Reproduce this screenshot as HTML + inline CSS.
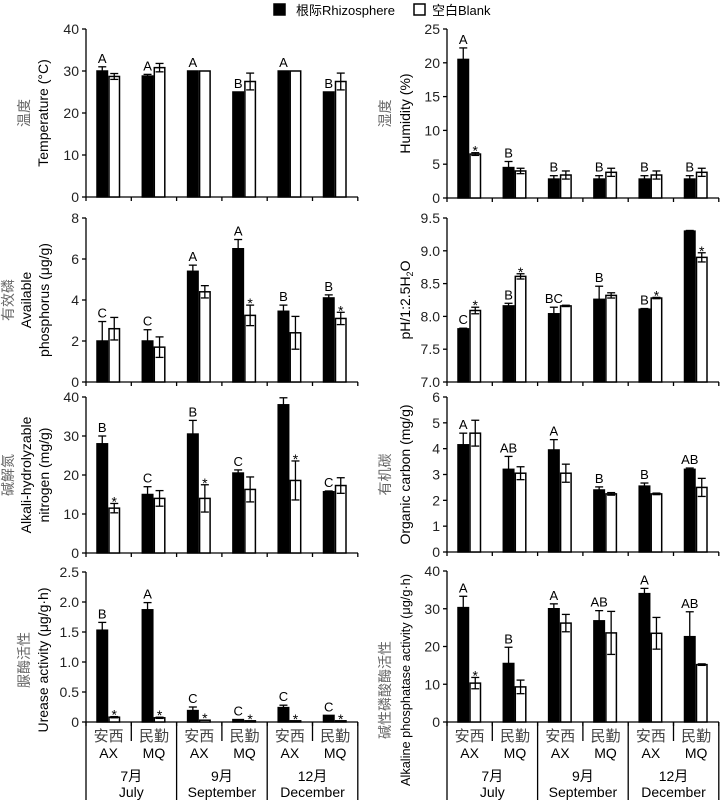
<!DOCTYPE html>
<html><head><meta charset="utf-8"><style>body{margin:0;background:#fff}svg{display:block}text{font-family:"Liberation Sans","Noto Sans CJK SC",sans-serif;}</style></head>
<body><svg id="s" width="720" height="800" xmlns="http://www.w3.org/2000/svg"></svg>
<script>
const S=document.getElementById('s');let h='';
function T(x,y,t,o){o=o||{};h+=`<text x="${x}" y="${y}" font-size="${o.fs||13}" fill="${o.c||'#000'}" text-anchor="${o.a||'middle'}"${o.r?` transform="rotate(-90 ${x} ${y})"`:''}${o.f?` font-family="${o.f}"`:''}${o.tl?` textLength="${o.tl}" lengthAdjust="spacingAndGlyphs"`:''}>${t}</text>`;}
function L(x1,y1,x2,y2,w){h+=`<line x1="${x1}" y1="${y1}" x2="${x2}" y2="${y2}" stroke="#000" stroke-width="${w||1.3}"/>`;}
function R(x,y,w,hh,f){h+=`<rect x="${x}" y="${y}" width="${w}" height="${hh}" fill="${f}" stroke="#000" stroke-width="1.5"/>`;}
function panel(ax,top,bot,ymin,ymax,ticks,fmt,data,labels){
 const sy=v=>bot-(v-ymin)/(ymax-ymin)*(bot-top);const gw=45.3;
 L(ax,top,ax,bot);L(ax,bot,ax+272,bot);
 ticks.forEach(t=>{const y=sy(t);L(ax-4,y,ax,y);T(ax-7,y+5,fmt(t),{a:'end',fs:14,c:'#222'});});
 for(let i=0;i<=6;i++){const x=ax+i*gw;L(x,bot,x,bot+4);}
 data.forEach((d,i)=>{const g=ax+i*gw;const bx=g+11,wx=g+23,bw=10.5;
  const [b,be,w,we,lt,st]=d;
  R(bx,sy(b),bw,bot-sy(b),'#000');R(wx,sy(w),bw,bot-sy(w),'#fff');
  const cb=bx+bw/2,cw=wx+bw/2;
  if(be>0){L(cb,sy(b),cb,sy(b+be));L(cb-4,sy(b+be),cb+4,sy(b+be));}
  if(we>0){L(cw,sy(w-we),cw,sy(w+we));L(cw-4,sy(w+we),cw+4,sy(w+we));L(cw-4,sy(w-we),cw+4,sy(w-we));}
  if(lt)T(cb,sy(b+be)-4,lt,{fs:13});
  if(st)T(cw,sy(w+we)+3,'*',{fs:14});
 });
 labels.forEach(l=>T(l[0],l[5]||(top+bot)/2,l[1],{r:1,fs:l[2]||14,c:l[3]||'#000',f:l[4],tl:l[6]}));
}
const f0=t=>t, f1=t=>t===0?'0':t.toFixed(1);
const CN='Liberation Serif,Noto Serif CJK SC,serif';
panel(86,29,197,0,40,[0,10,20,30,40],f0,[[30,1,28.7,0.7,'A'],[28.8,0.4,30.8,1,'A'],[30,0,30,0,'A'],[25,0,27.5,2,'B'],[30,0,30,0,'A'],[25,0,27.5,2,'B']],
 [[29,'温度',14,'#666',CN],[48,'Temperature (°C)']]);
panel(447,29,198,0,25,[0,5,10,15,20,25],f0,[[20.5,1.7,6.5,0.2,'A',1],[4.5,0.9,4,0.4,'B'],[2.8,0.5,3.4,0.6,'B'],[2.8,0.5,3.8,0.6,'B'],[2.8,0.5,3.4,0.6,'B'],[2.8,0.5,3.8,0.6,'B']],
 [[390,'湿度',14,'#666',CN],[410,'Humidity (%)']]);
panel(86,218,382,0,8,[0,2,4,6,8],f0,[[2,0.95,2.6,0.55,'C'],[2,0.55,1.7,0.5,'C'],[5.4,0.3,4.4,0.3,'A'],[6.5,0.45,3.25,0.5,'A',1],[3.45,0.3,2.4,0.8,'B'],[4.1,0.15,3.1,0.3,'B',1]],
 [[13,'有效磷',14,'#666',CN],[31,'Available'],[49,'phosphorus (μg/g)']]);
panel(447,218,382,7,9.5,[7,7.5,8,8.5,9,9.5],t=>t.toFixed(1),[[7.81,0.01,8.09,0.05,'C',1],[8.16,0.04,8.61,0.04,'B',1],[8.04,0.1,8.16,0.01,'BC'],[8.26,0.2,8.32,0.04,'B'],[8.11,0.01,8.28,0.01,'B',1],[9.3,0.01,8.9,0.07,'',1]],
 [[410,'pH/1:2.5H<tspan font-size="9" dy="3">2</tspan><tspan dy="-3">O</tspan>']]);
panel(86,397,553,0,40,[0,10,20,30,40],f0,[[28,2,11.5,1.2,'B',1],[15,2,14,2,'C'],[30.5,3.5,14,3.5,'B',1],[20.5,0.8,16.3,3.2,'C'],[38,1.8,18.6,5,'',1],[15.7,0.2,17.3,2,'C']],
 [[13,'碱解氮',14,'#666',CN],[31,'Alkali-hydrolyzable'],[49,'nitrogen (mg/g)']]);
panel(447,397,552,0,6,[0,1,2,3,4,5,6],f0,[[4.15,0.45,4.6,0.5,'A'],[3.2,0.5,3.05,0.25,'AB'],[3.95,0.4,3.05,0.35,'A'],[2.4,0.12,2.25,0.05,'B'],[2.55,0.12,2.25,0.03,'B'],[3.2,0.05,2.5,0.35,'AB']],
 [[390,'有机碳',14,'#666',CN],[410,'Organic carbon (mg/g)']]);
panel(86,572,722,0,2.5,[0,0.5,1,1.5,2,2.5],f1,[[1.53,0.13,0.08,0.01,'B',1],[1.87,0.12,0.07,0.01,'A',1],[0.19,0.06,0.03,0,'C',1],[0.04,0,0.02,0,'C',1],[0.24,0.04,0.02,0,'C',1],[0.11,0,0.02,0,'C',1]],
 [[29,'脲酶活性',14,'#666',CN,660],[48,'Urease activity (μg/g·h)',14,'#000',null,660]]);
panel(447,571,722,0,40,[0,10,20,30,40],f0,[[30.3,3,10.3,1.5,'A',1],[15.5,4.3,9.3,1.8,'B'],[30,1.3,26.2,2.3,'A'],[26.8,2.7,23.6,5.7,'AB'],[34,1.4,23.5,4.2,'A'],[22.6,6.6,15.2,0.2,'AB']],
 [[390,'碱性磷酸酶活性',14,'#666',CN,690],[410,'Alkaline phosphatase activity (μg/g·h)',13,'#000',null,680,212]]);
[86,447].forEach(ax=>{const gw=45.3;
 [0,2,4,6].forEach(i=>L(ax+i*gw,722,ax+i*gw,800));
 [1,3,5].forEach(i=>L(ax+i*gw,722,ax+i*gw,741));
 for(let i=0;i<6;i++){const cx=ax+i*gw+gw/2;T(cx,741,i%2?'民勤':'安西',{fs:15,c:'#444',f:CN});T(cx,758,i%2?'MQ':'AX',{fs:14});}
 [['7月','July'],['9月','September'],['12月','December']].forEach((m,j)=>{const cx=ax+j*2*gw+gw;T(cx,781,m[0],{fs:14});T(cx,797,m[1],{fs:14});});
});
R(274,4,11,11,'#000');T(296,15,'根际Rhizosphere',{a:'start',fs:13});
R(414,4,11,11,'#fff');T(432,15,'空白Blank',{a:'start',fs:13});
S.innerHTML=h;
</script></body></html>
